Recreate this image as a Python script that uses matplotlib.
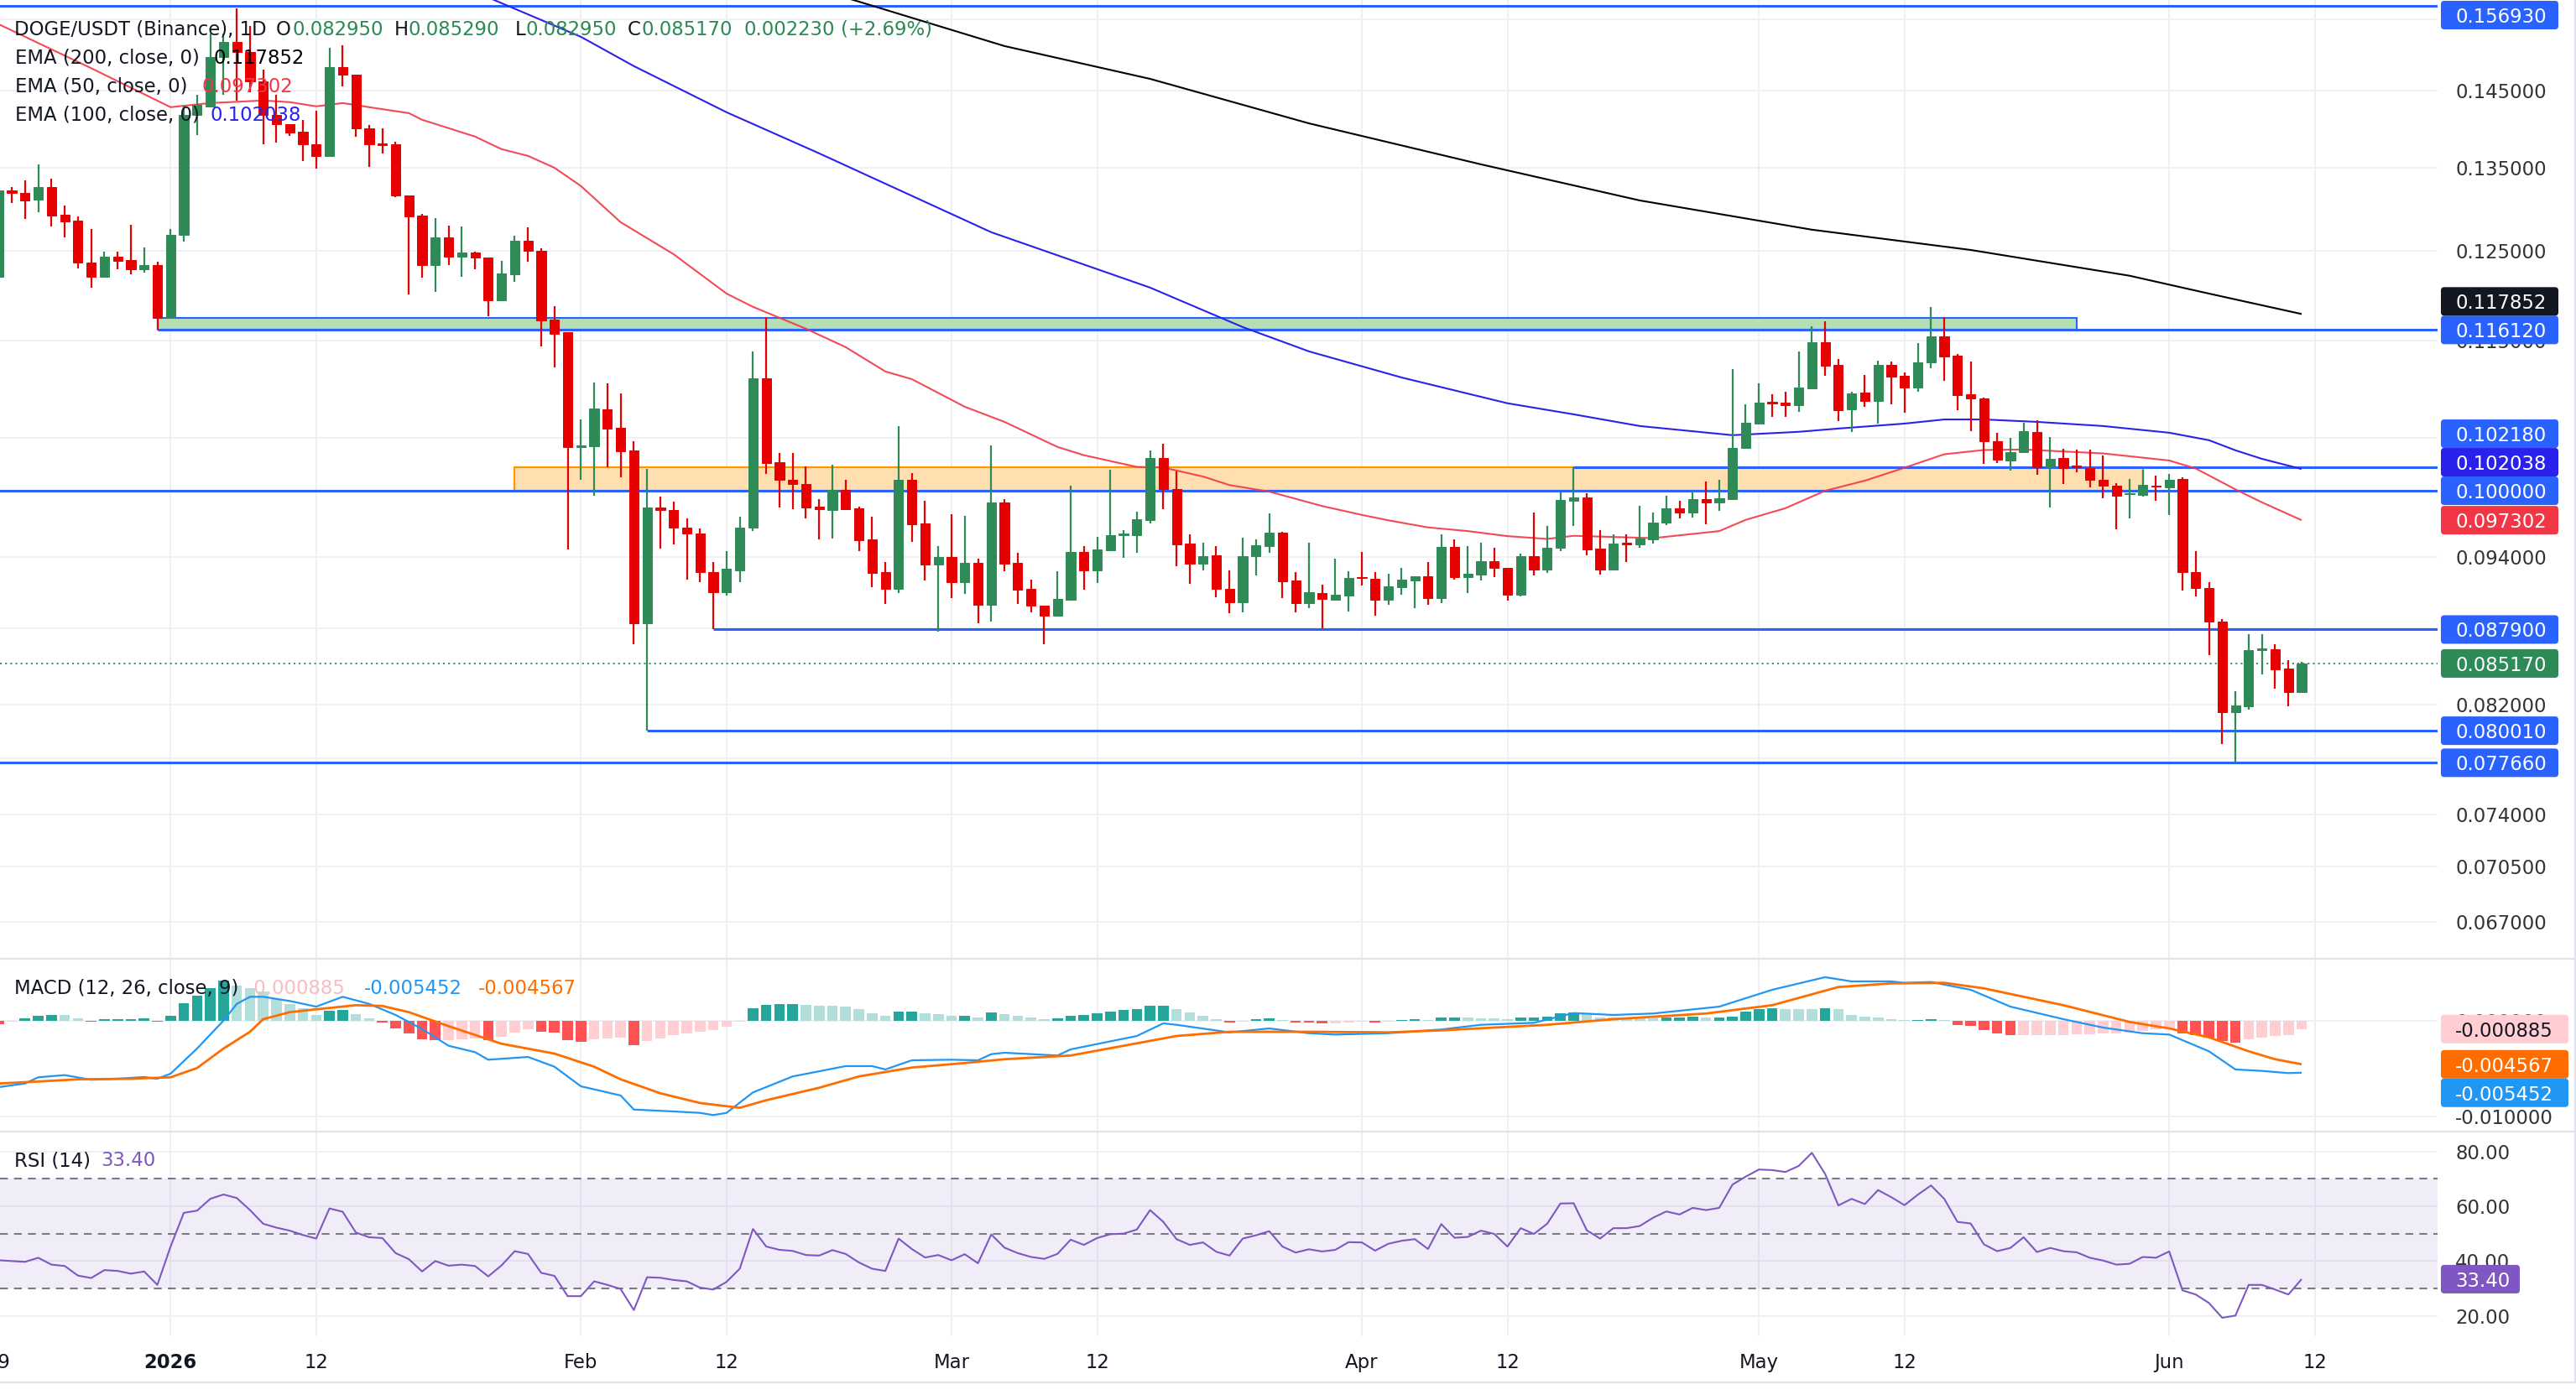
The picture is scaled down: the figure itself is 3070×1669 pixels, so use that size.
import numpy as np
import pandas as pd
import matplotlib
matplotlib.use("Agg")
import matplotlib.pyplot as plt
import matplotlib.dates as mdates
from matplotlib.patches import Rectangle, FancyBboxPatch
from matplotlib.ticker import NullLocator

plt.rcParams['font.family'] = ['DejaVu Sans']
plt.rcParams['lines.solid_capstyle'] = 'butt'

# ======================= DATA =======================
dates = pd.date_range("2025-12-19", "2026-06-11", freq="D")

opens = [
    0.12202, 0.13219, 0.13191, 0.13111, 0.13266, 0.12924, 0.12855, 0.12361, 0.12202, 0.12431,
    0.12393, 0.12281, 0.12335, 0.11741, 0.12686, 0.14185, 0.14297, 0.14963, 0.15176, 0.15037,
    0.14629, 0.14185, 0.14061, 0.13959, 0.13798, 0.13654, 0.14827, 0.14719, 0.14002, 0.13812,
    0.13794, 0.13157, 0.12918, 0.12329, 0.12654, 0.12434, 0.12478, 0.12424, 0.11940, 0.12233,
    0.12620, 0.12498, 0.11726, 0.11584, 0.10416, 0.10419, 0.10784, 0.10603, 0.10381, 0.08844,
    0.09846, 0.09826, 0.09662, 0.09612, 0.09272, 0.09103, 0.09288, 0.09662, 0.11101, 0.10269,
    0.10104, 0.10065, 0.09854, 0.09826, 0.10010, 0.09839, 0.09557, 0.09269, 0.09131, 0.10099,
    0.09703, 0.09337, 0.09404, 0.09184, 0.09353, 0.08991, 0.09892, 0.09353, 0.09131, 0.08987,
    0.08905, 0.09038, 0.09446, 0.09283, 0.09462, 0.09599, 0.09599, 0.09733, 0.10307, 0.10015,
    0.09519, 0.09348, 0.09417, 0.09127, 0.09015, 0.09409, 0.09501, 0.09619, 0.09198, 0.09008,
    0.09092, 0.09038, 0.09073, 0.09232, 0.09216, 0.09033, 0.09143, 0.09198, 0.09234, 0.09054,
    0.09494, 0.09231, 0.09252, 0.09368, 0.09308, 0.09078, 0.09409, 0.09293, 0.09482, 0.09910,
    0.09936, 0.09477, 0.09295, 0.09526, 0.09511, 0.09557, 0.09708, 0.09839, 0.09796, 0.09923,
    0.09889, 0.09923, 0.10405, 0.10644, 0.10863, 0.10855, 0.10827, 0.11002, 0.11478, 0.11242,
    0.10784, 0.10954, 0.10870, 0.11242, 0.11125, 0.11011, 0.11263, 0.11542, 0.11339, 0.10940,
    0.10898, 0.10473, 0.10285, 0.10366, 0.10563, 0.10224, 0.10310, 0.10238, 0.10216, 0.10104,
    0.10050, 0.09969, 0.09962, 0.10050, 0.10035, 0.10110, 0.09272, 0.09136, 0.08855, 0.08143,
    0.08187, 0.08626, 0.08632, 0.08477, 0.08295,
]
highs = [
    0.13260, 0.13260, 0.13346, 0.13544, 0.13370, 0.13035, 0.12908, 0.12753, 0.12488, 0.12488,
    0.12808, 0.12537, 0.12376, 0.12753, 0.14300, 0.14450, 0.15297, 0.15297, 0.15658, 0.15397,
    0.14789, 0.14453, 0.14061, 0.14118, 0.14235, 0.15091, 0.15130, 0.14719, 0.14048, 0.14002,
    0.13833, 0.13157, 0.12934, 0.12885, 0.12796, 0.12786, 0.12488, 0.12424, 0.12383, 0.12670,
    0.12776, 0.12528, 0.11873, 0.11590, 0.10685, 0.11059, 0.11048, 0.10949, 0.10473, 0.10206,
    0.09945, 0.09897, 0.09746, 0.09657, 0.09361, 0.09457, 0.09763, 0.11383, 0.11751, 0.10359,
    0.10359, 0.10230, 0.09923, 0.10246, 0.10099, 0.09854, 0.09758, 0.09361, 0.10617, 0.10167,
    0.09910, 0.09499, 0.09783, 0.09771, 0.09385, 0.10432, 0.09923, 0.09441, 0.09206, 0.08990,
    0.09281, 0.10047, 0.09499, 0.09582, 0.10198, 0.09644, 0.09808, 0.10380, 0.10448, 0.10180,
    0.09602, 0.09531, 0.09499, 0.09288, 0.09574, 0.09561, 0.09791, 0.09627, 0.09271, 0.09526,
    0.09163, 0.09390, 0.09281, 0.09446, 0.09271, 0.09259, 0.09308, 0.09239, 0.09361, 0.09602,
    0.09561, 0.09499, 0.09526, 0.09482, 0.09308, 0.09433, 0.09801, 0.09678, 0.09988, 0.10220,
    0.09980, 0.09640, 0.09602, 0.09602, 0.09859, 0.09796, 0.09955, 0.09905, 0.09994, 0.10088,
    0.10106, 0.11198, 0.10835, 0.11048, 0.10940, 0.10963, 0.11383, 0.11651, 0.11704, 0.11301,
    0.10963, 0.11133, 0.11286, 0.11278, 0.11161, 0.11469, 0.11864, 0.11751, 0.11351, 0.11278,
    0.10906, 0.10557, 0.10500, 0.10652, 0.10677, 0.10514, 0.10399, 0.10388, 0.10388, 0.10331,
    0.10074, 0.10113, 0.10194, 0.10143, 0.10155, 0.10125, 0.09456, 0.09184, 0.08874, 0.08303,
    0.08750, 0.08750, 0.08673, 0.08544, 0.08529,
]
lows = [
    0.12150, 0.13070, 0.12878, 0.12957, 0.12786, 0.12656, 0.12297, 0.12075, 0.12192, 0.12281,
    0.12233, 0.12243, 0.11613, 0.11740, 0.12603, 0.13922, 0.14290, 0.14450, 0.14372, 0.14483,
    0.13804, 0.13823, 0.13912, 0.13590, 0.13494, 0.13637, 0.14565, 0.13894, 0.13512, 0.13686,
    0.13139, 0.12005, 0.12186, 0.12033, 0.12329, 0.12202, 0.12290, 0.11765, 0.11935, 0.12139,
    0.12376, 0.11439, 0.11216, 0.09467, 0.10106, 0.09957, 0.10224, 0.10128, 0.08674, 0.08001,
    0.09475, 0.09511, 0.09210, 0.09184, 0.08793, 0.09073, 0.09184, 0.09632, 0.10159, 0.09846,
    0.09833, 0.09750, 0.09555, 0.09567, 0.09825, 0.09457, 0.09143, 0.08998, 0.09092, 0.09539,
    0.09198, 0.08771, 0.09054, 0.09085, 0.08844, 0.08858, 0.09276, 0.08998, 0.08928, 0.08670,
    0.08900, 0.09033, 0.09120, 0.09179, 0.09453, 0.09397, 0.09441, 0.09703, 0.09833, 0.09324,
    0.09172, 0.09288, 0.09061, 0.08921, 0.08928, 0.09245, 0.09441, 0.09054, 0.08928, 0.08968,
    0.08800, 0.09030, 0.08938, 0.09160, 0.08903, 0.08991, 0.09078, 0.08968, 0.08991, 0.09008,
    0.09209, 0.09092, 0.09198, 0.09228, 0.09026, 0.09068, 0.09245, 0.09264, 0.09453, 0.09678,
    0.09414, 0.09252, 0.09288, 0.09356, 0.09486, 0.09519, 0.09682, 0.09746, 0.09753, 0.09695,
    0.09814, 0.09920, 0.10400, 0.10638, 0.10713, 0.10713, 0.10764, 0.11000, 0.11130, 0.10671,
    0.10563, 0.10813, 0.10644, 0.10840, 0.10756, 0.10968, 0.11204, 0.11073, 0.10776, 0.10568,
    0.10256, 0.10264, 0.10193, 0.10360, 0.10151, 0.09846, 0.10059, 0.10172, 0.10028, 0.09933,
    0.09647, 0.09743, 0.09948, 0.09909, 0.09778, 0.09115, 0.09062, 0.08580, 0.07900, 0.07766,
    0.08162, 0.08434, 0.08318, 0.08182, 0.08295,
]
closes = [
    0.13222, 0.13191, 0.13101, 0.13266, 0.12918, 0.12845, 0.12361, 0.12202, 0.12431, 0.12386,
    0.12281, 0.12335, 0.11741, 0.12686, 0.14182, 0.14316, 0.14963, 0.15176, 0.15037, 0.14629,
    0.14185, 0.14061, 0.13954, 0.13794, 0.13654, 0.14827, 0.14719, 0.14002, 0.13804, 0.13787,
    0.13157, 0.12908, 0.12329, 0.12654, 0.12434, 0.12478, 0.12418, 0.11940, 0.12240, 0.12620,
    0.12495, 0.11719, 0.11571, 0.10416, 0.10432, 0.10798, 0.10598, 0.10377, 0.08844, 0.09846,
    0.09821, 0.09662, 0.09607, 0.09269, 0.09103, 0.09301, 0.09662, 0.11101, 0.10264, 0.10099,
    0.10059, 0.09846, 0.09833, 0.10010, 0.09833, 0.09551, 0.09264, 0.09131, 0.10099, 0.09695,
    0.09337, 0.09404, 0.09184, 0.09353, 0.08991, 0.09892, 0.09348, 0.09124, 0.08984, 0.08905,
    0.09043, 0.09446, 0.09283, 0.09470, 0.09594, 0.09612, 0.09738, 0.10307, 0.10015, 0.09514,
    0.09348, 0.09409, 0.09131, 0.09015, 0.09409, 0.09506, 0.09619, 0.09196, 0.09008, 0.09101,
    0.09043, 0.09078, 0.09225, 0.09223, 0.09033, 0.09150, 0.09208, 0.09234, 0.09054, 0.09494,
    0.09231, 0.09257, 0.09368, 0.09305, 0.09078, 0.09409, 0.09293, 0.09482, 0.09915, 0.09936,
    0.09470, 0.09295, 0.09519, 0.09514, 0.09566, 0.09708, 0.09839, 0.09796, 0.09923, 0.09889,
    0.09928, 0.10408, 0.10652, 0.10855, 0.10849, 0.10827, 0.11005, 0.11478, 0.11236, 0.10776,
    0.10949, 0.10870, 0.11242, 0.11119, 0.11011, 0.11266, 0.11542, 0.11331, 0.10934, 0.10892,
    0.10467, 0.10296, 0.10366, 0.10571, 0.10224, 0.10299, 0.10216, 0.10224, 0.10099, 0.10044,
    0.09954, 0.09980, 0.10053, 0.10038, 0.10104, 0.09272, 0.09134, 0.08855, 0.08143, 0.08192,
    0.08626, 0.08639, 0.08472, 0.08294, 0.08517,
]

# indicator samples: days counted from 2026-01-01
ref_day = pd.Timestamp("2026-01-01")
ema200_day = [40, 52, 63, 74, 86, 99, 111, 124, 136, 148, 154, 161]
ema200_val = [0.1647, 0.15755, 0.15118, 0.14664, 0.14070, 0.13544, 0.13097, 0.12746,
              0.12508, 0.12212, 0.12011, 0.117852]
ema100_day = [14, 24, 31, 35, 42, 49, 62, 74, 81, 86, 93, 101, 106, 111, 118, 123, 126,
              131, 134, 137, 141, 146, 151, 154, 156, 158, 161]
ema100_val = [0.1666, 0.15816, 0.15248, 0.14839, 0.14216, 0.13683, 0.12716, 0.12078,
              0.11643, 0.11383, 0.11110, 0.10847, 0.10736, 0.10620, 0.10530, 0.10563,
              0.10595, 0.10644, 0.10685, 0.10685, 0.10661, 0.10620, 0.10554, 0.10481,
              0.10383, 0.10301, 0.102038]
ema50_day = [-13, -6, 0, 3, 7, 9, 11, 13, 15, 18, 19, 23, 25, 27, 29, 31, 34, 38, 42, 44,
             46, 48, 51, 54, 56, 60, 63, 67, 69, 73, 75, 78, 80, 83, 87, 90, 92, 95, 98, 101,
             104, 106, 112, 117, 119, 122, 125, 128, 131, 134, 137, 140, 146, 151, 153, 156,
             158, 161]
ema50_val = [0.15429, 0.14810, 0.14283, 0.14338, 0.14372, 0.14350, 0.14294, 0.14338,
             0.14283, 0.14204, 0.14117, 0.13898, 0.13737, 0.13651, 0.13501, 0.13274,
             0.12835, 0.12459, 0.12011, 0.11864, 0.11744, 0.11625, 0.11428, 0.11172,
             0.11093, 0.10812, 0.10661, 0.10416, 0.10336, 0.10224, 0.10218, 0.10133,
             0.10053, 0.09992, 0.09859, 0.09778, 0.09729, 0.09665, 0.09632, 0.09587,
             0.09562, 0.09590, 0.09569, 0.09632, 0.09733, 0.09839, 0.10000, 0.10094,
             0.10216, 0.10345, 0.10386, 0.10391, 0.10353, 0.10285, 0.10209, 0.10013,
             0.09893, 0.097302]

macd_day = [-13, -11, -10, -8, -6, -4, -2, -1, 0, 2, 4, 5, 6, 7, 9, 11, 13, 15, 17, 19,
            21, 23, 24, 27, 29, 31, 34, 35, 38, 40, 41, 42, 44, 47, 51, 53, 54, 56, 59, 61,
            62, 63, 67, 68, 73, 75, 76, 80, 83, 86, 88, 92, 96, 99, 103, 106, 109, 112, 117,
            121, 125, 127, 130, 131, 133, 136, 139, 143, 146, 149, 151, 154, 156, 158, 160, 161]
macd_val = [-0.00696, -0.00658, -0.00593, -0.00570, -0.00619, -0.00608, -0.00590, -0.00608,
            -0.00555, -0.00292, 0.0, 0.00175, 0.00249, 0.00249, 0.00205, 0.00146, 0.00249,
            0.00175, 0.00059, -0.00088, -0.00263, -0.00330, -0.00409, -0.00380, -0.00482,
            -0.00687, -0.00783, -0.00930, -0.00950, -0.00965, -0.00988, -0.00965, -0.00751,
            -0.00584, -0.00476, -0.00476, -0.00511, -0.00415, -0.00409, -0.00415, -0.00351,
            -0.00336, -0.00365, -0.00301, -0.00161, -0.00029, -0.00044, -0.00123, -0.00082,
            -0.00132, -0.00146, -0.00132, -0.00093, -0.00044, -0.00023, 0.00079, 0.00059,
            0.00074, 0.00146, 0.00322, 0.00454, 0.00410, 0.00410, 0.00395, 0.00404, 0.00322,
            0.00146, 0.00015, -0.00073, -0.00132, -0.00146, -0.00321, -0.00511, -0.00526,
            -0.00549, -0.005452]
signal_day = [-13, -10, -7, -3, 0, 2, 4, 6, 7, 9, 11, 14, 16, 18, 21, 25, 29, 32, 34, 37,
              40, 43, 45, 49, 52, 56, 60, 63, 68, 72, 76, 80, 86, 92, 96, 104, 109, 116, 121,
              126, 130, 134, 137, 143, 148, 151, 154, 157, 159, 161]
signal_val = [-0.00658, -0.00637, -0.00614, -0.00608, -0.00593, -0.00496, -0.00292, -0.00117,
              0.00015, 0.00088, 0.00118, 0.00161, 0.00153, 0.00088, -0.00058, -0.00242,
              -0.00345, -0.00482, -0.00614, -0.00760, -0.00862, -0.00912, -0.00833, -0.00702,
              -0.00584, -0.00491, -0.00444, -0.00404, -0.00365, -0.00263, -0.00161, -0.00117,
              -0.00117, -0.00123, -0.00102, -0.00044, 0.00015, 0.00074, 0.00161, 0.00351,
              0.00389, 0.00395, 0.00337, 0.00161, -0.00014, -0.00082, -0.00175, -0.00321,
              -0.00404, -0.004567]
macd_hist = [
    -0.00035, -0.00010, 0.00023, 0.00053, 0.00058, 0.00056, 0.00023, -0.00010, 0.00015, 0.00016,
    0.00017, 0.00023, -0.00012, 0.00053, 0.00184, 0.00263, 0.00336, 0.00418, 0.00365, 0.00336,
    0.00301, 0.00228, 0.00170, 0.00126, 0.00058, 0.00105, 0.00111, 0.00067, 0.00023, -0.00020,
    -0.00085, -0.00132, -0.00196, -0.00208, -0.00205, -0.00196, -0.00187, -0.00202, -0.00173, -0.00123,
    -0.00094, -0.00114, -0.00123, -0.00202, -0.00225, -0.00196, -0.00190, -0.00181, -0.00254, -0.00211,
    -0.00190, -0.00152, -0.00137, -0.00114, -0.00102, -0.00064, -0.00012, 0.00126, 0.00161, 0.00170,
    0.00172, 0.00161, 0.00155, 0.00152, 0.00146, 0.00117, 0.00076, 0.00053, 0.00096, 0.00098,
    0.00076, 0.00067, 0.00050, 0.00053, 0.00032, 0.00082, 0.00067, 0.00050, 0.00029, 0.00015,
    0.00020, 0.00050, 0.00058, 0.00073, 0.00096, 0.00108, 0.00117, 0.00155, 0.00156, 0.00123,
    0.00088, 0.00053, 0.00015, -0.00020, -0.00009, 0.00015, 0.00023, 0.00006, -0.00020, -0.00022,
    -0.00029, -0.00028, -0.00020, -0.00009, -0.00020, -0.00009, 0.00006, 0.00015, 0.00006, 0.00035,
    0.00036, 0.00029, 0.00025, 0.00023, 0.00015, 0.00035, 0.00036, 0.00044, 0.00073, 0.00088,
    0.00073, 0.00035, 0.00030, 0.00029, 0.00026, 0.00023, 0.00032, 0.00035, 0.00038, 0.00032,
    0.00035, 0.00044, 0.00096, 0.00117, 0.00129, 0.00123, 0.00120, 0.00117, 0.00132, 0.00117,
    0.00058, 0.00044, 0.00035, 0.00015, 0.00006, 0.00010, 0.00015, 0.00006, -0.00044, -0.00058,
    -0.00102, -0.00132, -0.00155, -0.00154, -0.00153, -0.00152, -0.00150, -0.00146, -0.00140, -0.00137,
    -0.00132, -0.00123, -0.00111, -0.00088, -0.00082, -0.00132, -0.00152, -0.00175, -0.00213, -0.00228,
    -0.00199, -0.00175, -0.00161, -0.00152, -0.000885,
]
rsi = [
    40.3, 40.0, 39.7, 41.2, 38.7, 38.2, 34.7, 33.8, 36.7, 36.4,
    35.4, 36.2, 31.3, 45.3, 57.6, 58.4, 62.7, 64.3, 63.0, 58.6,
    53.6, 52.2, 51.1, 49.5, 48.2, 59.2, 58.0, 50.4, 48.7, 48.4,
    42.9, 40.7, 36.2, 40.0, 38.3, 38.7, 38.2, 34.4, 38.4, 43.6,
    42.6, 35.7, 34.6, 27.2, 27.2, 32.6, 31.3, 29.8, 22.1, 34.1,
    33.9, 33.1, 32.6, 30.3, 29.6, 32.4, 37.2, 51.7, 45.3, 44.1,
    43.7, 42.2, 42.0, 44.0, 42.6, 39.5, 37.2, 36.4, 48.2, 44.4,
    41.3, 42.2, 40.3, 42.5, 39.2, 49.7, 44.9, 42.9, 41.5, 40.8,
    42.6, 47.8, 45.9, 48.4, 49.8, 50.0, 51.5, 58.6, 54.3, 48.0,
    45.9, 46.8, 43.4, 42.0, 48.2, 49.4, 50.9, 45.3, 43.1, 44.3,
    43.5, 44.1, 46.9, 46.8, 43.8, 46.3, 47.4, 48.0, 44.4, 53.5,
    48.5, 48.8, 51.1, 49.9, 45.3, 52.0, 49.9, 53.6, 61.0, 61.1,
    51.2, 48.2, 52.0, 52.0, 52.8, 55.8, 58.1, 57.0, 59.4, 58.6,
    59.4, 67.9, 70.8, 73.4, 73.2, 72.5, 74.7, 79.5, 71.8, 60.3,
    62.7, 60.8, 65.9, 63.3, 60.4, 64.2, 67.6, 62.7, 54.3, 53.7,
    46.1, 43.6, 44.8, 48.7, 43.3, 44.8, 43.6, 43.2, 41.2, 40.2,
    38.7, 39.0, 41.5, 41.2, 43.5, 29.3, 27.8, 24.7, 19.3, 20.1,
    31.3, 31.3, 29.6, 27.8, 33.4,
]

# drawn levels and zones
level_price = [0.15693, 0.11612, 0.10218, 0.10000, 0.08790, 0.08001, 0.07766]
level_start = [None, "2025-12-31", "2026-04-17", None, "2026-02-11", "2026-02-06", None]
green_zone = ("2025-12-31", "2026-05-25", 0.11612, 0.11745)
orange_zone = ("2026-01-27", "2026-05-30", 0.10000, 0.10218)

price_grid = [0.155, 0.145, 0.135, 0.125, 0.115, 0.105, 0.100, 0.094, 0.088, 0.082,
              0.078, 0.074, 0.0705, 0.067]
date_ticks = ["2025-12-19", "2026-01-01", "2026-01-12", "2026-02-01", "2026-02-12",
              "2026-03-01", "2026-03-12", "2026-04-01", "2026-04-12", "2026-05-01",
              "2026-05-12", "2026-06-01", "2026-06-12"]
date_tick_labels = ["19", "2026", "12", "Feb", "12", "Mar", "12", "Apr", "12", "May",
                    "12", "Jun", "12"]

for arr in (opens, highs, lows, closes, macd_hist, rsi):
    assert len(arr) == len(dates), len(arr)

# ======================= STYLE / LAYOUT =======================
W, H, DPI = 3070, 1669, 100
FS = 16.4
DARK = '#131722'
GREEN = '#2E8B57'
RED = '#E60000'
BLUE_LINE = '#2962FF'
EMA200_C = '#000000'
EMA50_C = '#F23645'
EMA100_C = '#2A22EC'
GRID = '#EEF0F4'
SEP = '#E0E3EB'
MACD_C = '#2196F3'
SIG_C = '#FF6D00'
RSI_C = '#7E57C2'
PLOT_R = 2905


def to_num(seq):
    return mdates.date2num(pd.to_datetime(seq).to_pydatetime())


def days_to_num(days):
    return to_num(ref_day + pd.to_timedelta(days, unit='D'))


fig = plt.figure(figsize=(W / DPI, H / DPI), dpi=DPI)
fig.patch.set_facecolor('white')


def add_pane(x0, y0, x1, y1):
    a = fig.add_axes([x0 / W, 1 - y1 / H, (x1 - x0) / W, (y1 - y0) / H])
    a.set_facecolor('none')
    for s in a.spines.values():
        s.set_visible(False)
    return a


ax = add_pane(0, 0, PLOT_R, 1142)
axm = add_pane(0, 1143, PLOT_R, 1348)
axr = add_pane(0, 1349, PLOT_R, 1593)

ref_num = days_to_num([0])[0]
xlim = (ref_num - 12.888, ref_num + 171.27)
ax.set_yscale('log')
ax.set_ylim(0.064778, 0.15779)
axm.set_ylim(-0.011518, 0.006465)
axr.set_ylim(12.56, 87.25)
for a in (ax, axm, axr):
    a.set_xlim(*xlim)
    a.set_xticks([])
    a.set_yticks([])
    a.xaxis.set_minor_locator(NullLocator())
    a.yaxis.set_minor_locator(NullLocator())
    for t in to_num(date_ticks):
        a.axvline(t, color=GRID, lw=1.4, zorder=0)

x = to_num(dates)
o = np.array(opens); h = np.array(highs); l = np.array(lows); c = np.array(closes)

# ---------- main pane ----------
for p in price_grid:
    ax.axhline(p, color=GRID, lw=1.4, zorder=0)

gz0, gz1 = to_num([green_zone[0], green_zone[1]])
ax.add_patch(Rectangle((gz0, green_zone[2]), gz1 - gz0, green_zone[3] - green_zone[2],
                       facecolor='#B3DEB6', edgecolor=BLUE_LINE, lw=1.5, zorder=1))
oz0, oz1 = to_num([orange_zone[0], orange_zone[1]])
ax.add_patch(Rectangle((oz0, orange_zone[2]), oz1 - oz0, orange_zone[3] - orange_zone[2],
                       facecolor='#FFDFB0', edgecolor='#FF9800', lw=1.6, zorder=1))

for p, s in zip(level_price, level_start):
    xs = xlim[0] - 5 if s is None else to_num([s])[0]
    ax.hlines(p, xs, xlim[1], color=BLUE_LINE, lw=2.2, zorder=2)

ax.axhline(closes[-1], color=GREEN, lw=1.3, ls=(0, (1.2, 2.2)), zorder=2)

ax.plot(days_to_num(ema200_day), ema200_val, color=EMA200_C, lw=1.5, zorder=3)
ax.plot(days_to_num(ema100_day), ema100_val, color=EMA100_C, lw=1.5, zorder=3)
ax.plot(days_to_num(ema50_day), ema50_val, color=EMA50_C, lw=1.5, alpha=0.9, zorder=3)

up = c >= o
cols = np.where(up, GREEN, RED)
ax.vlines(x, l, h, colors=cols, lw=1.6, zorder=4)
lo_b = np.minimum(o, c); hi_b = np.maximum(o, c)
ax.bar(x, hi_b - lo_b, bottom=lo_b, width=0.71, color=cols, edgecolor=cols, lw=0.7, zorder=5)

# ---------- MACD pane ----------
axm.axhline(0.0, color=GRID, lw=1.4, zorder=0)
axm.axhline(-0.01, color=GRID, lw=1.4, zorder=0)
hist = np.array(macd_hist)
prev = np.concatenate([[hist[0]], hist[:-1]])
hcols = np.where(hist >= 0, np.where(hist >= prev, '#26A69A', '#B2DFDB'),
                 np.where(hist <= prev, '#FF5252', '#FFCDD2'))
axm.bar(x, hist, width=0.8, color=hcols, zorder=2)
axm.plot(days_to_num(macd_day), macd_val, color=MACD_C, lw=1.6, zorder=3)
axm.plot(days_to_num(signal_day), signal_val, color=SIG_C, lw=2.0, zorder=4)

# ---------- RSI pane ----------
for v in (20, 40, 60, 80):
    axr.axhline(v, color=GRID, lw=1.4, zorder=0)
axr.axhspan(30, 70, color=RSI_C, alpha=0.1, lw=0, zorder=1)
for v in (70, 50, 30):
    axr.axhline(v, color='#787B86', lw=1.5, ls=(0, (4.5, 3.5)), zorder=2)
axr.plot(x, rsi, color=RSI_C, lw=1.5, zorder=3)

# ======================= OVERLAY (labels, legends) =======================
ov = fig.add_axes([0, 0, 1, 1], zorder=10)
ov.set_xlim(0, W)
ov.set_ylim(H, 0)
ov.axis('off')
ov.patch.set_visible(False)


def py(a, v):
    return H - a.transData.transform((xlim[0], v))[1]


def px(a, xv):
    return a.transData.transform((xv, a.get_ylim()[0]))[0]


TXT_X = 2926


def plain(yc, text, color=DARK, bold=False):
    ov.text(TXT_X, yc, text, ha='left', va='center_baseline', fontsize=FS, color=color,
            fontweight='bold' if bold else 'normal', zorder=1)


def tag(yc, text, fc, tc='white', w=140, hgt=34):
    ov.add_patch(FancyBboxPatch((2909, yc - hgt / 2), w, hgt,
                                boxstyle="round,pad=0,rounding_size=4",
                                fc=fc, ec='none', zorder=2))
    ov.text(TXT_X, yc, text, ha='left', va='center_baseline', fontsize=FS, color=tc, zorder=3)


def stack(items, upward, gap=34, top=None):
    # items: (ypix, text, fc, tc)
    items = sorted(items, key=lambda t: t[0], reverse=upward)
    out = []
    prev = None
    for y, *rest in items:
        if prev is not None:
            y = min(y, prev - gap) if upward else max(y, prev + gap)
        out.append((y, *rest))
        prev = y
    if top is not None:
        out = [(max(y, top), *rest) for y, *rest in out]
    return out


# main price axis
for p in price_grid:
    plain(py(ax, p), f"{p:.6f}", color='#333333')
main_tags = [(py(ax, lv), f"{lv:.6f}", BLUE_LINE, 'white') for lv in level_price]
main_tags += [
    (py(ax, ema200_val[-1]), f"{ema200_val[-1]:.6f}", DARK, 'white'),
    (py(ax, ema100_val[-1]), f"{ema100_val[-1]:.6f}", EMA100_C, 'white'),
    (py(ax, ema50_val[-1]), f"{ema50_val[-1]:.6f}", EMA50_C, 'white'),
    (py(ax, closes[-1]), f"{closes[-1]:.6f}", GREEN, 'white'),
]
for y, t, fc, tc in stack(main_tags, upward=True, top=18):
    tag(y, t, fc, tc)

# MACD axis
plain(py(axm, 0.0), "0.000000", color='#333333')
plain(py(axm, -0.01), "-0.010000", color='#333333')
macd_tags = [
    (py(axm, macd_hist[-1]), f"{macd_hist[-1]:.6f}", '#FFCDD2', DARK),
    (py(axm, signal_val[-1]), f"{signal_val[-1]:.6f}", SIG_C, 'white'),
    (py(axm, macd_val[-1]), f"{macd_val[-1]:.6f}", MACD_C, 'white'),
]
for y, t, fc, tc in stack(macd_tags, upward=False):
    tag(y, t, fc, tc, w=152)

# RSI axis
for v in (80, 60, 40, 20):
    plain(py(axr, v), f"{v:.2f}", color='#333333')
tag(py(axr, rsi[-1]), f"{rsi[-1]:.2f}", RSI_C, 'white', w=94)

# date axis
for d, lab in zip(to_num(date_ticks), date_tick_labels):
    ov.text(px(axr, d), 1622, lab, ha='center', va='center_baseline', fontsize=FS,
            color=DARK, fontweight='bold' if lab.isdigit() and len(lab) == 4 else 'normal')

# separators / borders
for yy in (1142.5, 1348.5, 1648):
    ov.plot([0, W], [yy, yy], color=SEP, lw=1.6)
ov.plot([3068.5, 3068.5], [0, 1648], color=SEP, lw=1.6)


# legends
def legend_row(y, pieces):
    for xx, text, col in pieces:
        ov.text(xx, y, text, ha='left', va='center_baseline', fontsize=FS, color=col, zorder=4)


chg = closes[-1] - closes[-2]
pct = chg / closes[-2] * 100
LG = '#2A8A55'
legend_row(33, [(17, "DOGE/USDT (Binance), 1D", DARK), (329, "O", DARK),
                (348, f"{opens[-1]:.6f}", LG), (470, "H", DARK), (486, f"{highs[-1]:.6f}", LG),
                (614, "L", DARK), (627, f"{lows[-1]:.6f}", LG), (748, "C", DARK),
                (765, f"{closes[-1]:.6f}", LG), (887, f"{chg:.6f}", LG),
                (1002, f"({pct:+.2f}%)", LG)])
legend_row(67, [(18, "EMA (200, close, 0)", DARK), (254, f"{ema200_val[-1]:.6f}", '#000000')])
legend_row(101, [(18, "EMA (50, close, 0)", DARK), (241, f"{ema50_val[-1]:.6f}", EMA50_C)])
legend_row(135, [(18, "EMA (100, close, 0)", DARK), (251, f"{ema100_val[-1]:.6f}", EMA100_C)])
legend_row(1176, [(17, "MACD (12, 26, close, 9)", DARK), (295, f"{macd_hist[-1]:.6f}", '#F9BCC4'),
                  (434, f"{macd_val[-1]:.6f}", MACD_C), (570, f"{signal_val[-1]:.6f}", SIG_C)])
legend_row(1381, [(17, "RSI (14)", DARK), (120, f"{rsi[-1]:.2f}", RSI_C)])

fig.savefig("out.png", dpi=DPI, facecolor='white')
